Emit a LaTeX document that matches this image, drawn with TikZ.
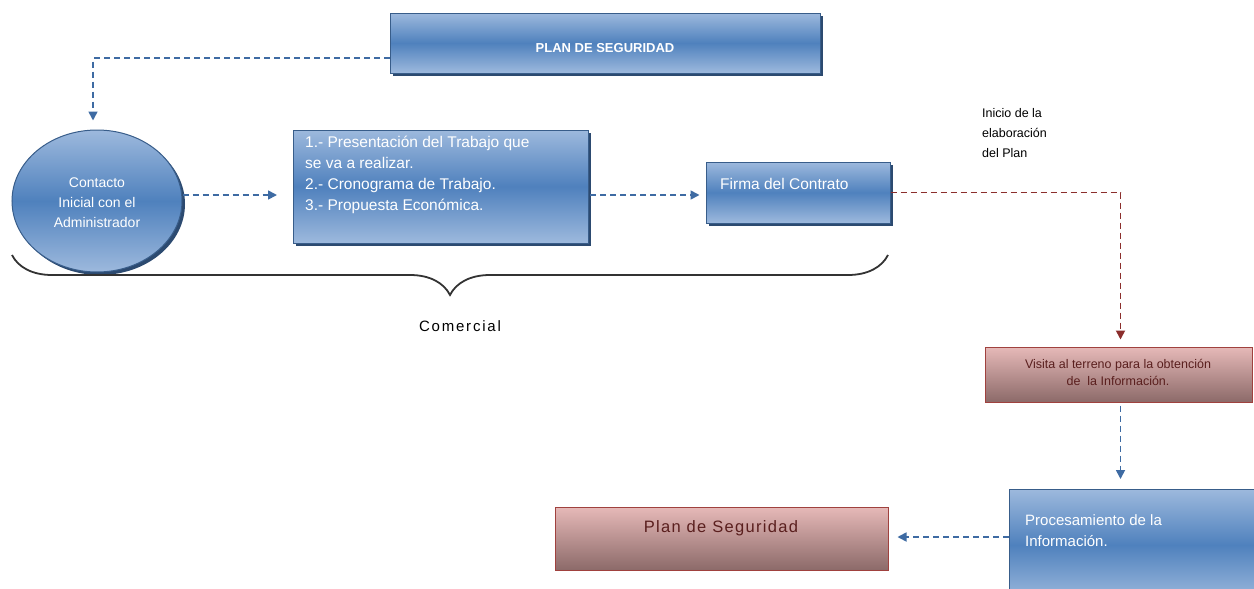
\documentclass[tikz,border=0pt]{standalone}
\usepackage{fontspec}
\setmainfont{Liberation Sans}
\usetikzlibrary{shapes.geometric,shadows,arrows.meta,decorations.pathreplacing}
\definecolor{bLight}{HTML}{9DB9DD}
\definecolor{bMid}{HTML}{4F81BD}
\definecolor{bBorder}{HTML}{385D8A}
\definecolor{bShadow}{HTML}{2C4A70}
\definecolor{rLight}{HTML}{E6B9B8}
\definecolor{rDark}{HTML}{8C6A69}
\definecolor{rBorder}{HTML}{A0413E}
\definecolor{rText}{HTML}{5A1F1E}
\definecolor{rArrow}{HTML}{8B2E2C}
\definecolor{bArrow}{HTML}{3E6BA3}
\tikzset{
  bluebox/.style={draw=bBorder, line width=1pt, top color=bLight, bottom color=bLight, middle color=bMid,
    general shadow={fill=bShadow, shadow xshift=3pt, shadow yshift=-3pt}, inner sep=0pt},
  redbox/.style={draw=rBorder, line width=1pt, top color=rLight, bottom color=rDark,
    inner sep=0pt},
  wtext/.style={text=white, font=\fontsize{15}{20}\selectfont, inner sep=0pt},
  bdash/.style={draw=bArrow, line width=1.7pt, dash pattern=on 6pt off 4pt, -{Triangle[length=9pt,width=9pt]}},
  rdash/.style={draw=rArrow, line width=1.8pt, dash pattern=on 6pt off 4pt, -{Triangle[length=9pt,width=9pt]}},
}
\begin{document}
\begin{tikzpicture}[x=1pt,y=-1pt]
\useasboundingbox (0,0) rectangle (1254,589);
% nodes
\node[bluebox, minimum width=430pt, minimum height=60pt] (plan) at (605,43) {};
\node[text=white, font=\fontsize{13}{15}\selectfont\bfseries, inner sep=0pt] (plant) at (605,48) {PLAN DE SEGURIDAD};
\node[bluebox, ellipse, minimum width=170pt, minimum height=142pt] (ell) at (97,201) {};
\node[text=white, font=\fontsize{14}{20}\selectfont, align=center, inner sep=0pt] (ellt) at (97,203) {Contacto\\Inicial con el\\Administrador};
\node[bluebox, minimum width=295pt, minimum height=113pt] (list) at (440.5,186.5) {};
\node[wtext, anchor=north west, align=left, font=\fontsize{15.5}{21}\selectfont] (listt) at (305,136) {1.- Presentación del Trabajo que\\se va a realizar.\\2.- Cronograma de Trabajo.\\3.- Propuesta Económica.};
\node[bluebox, minimum width=184pt, minimum height=61pt] (firma) at (798,192.5) {};
\node[wtext, anchor=west, font=\fontsize{15.5}{20}\selectfont] (firmat) at (720,184) {Firma del Contrato};
\node[anchor=north west, align=left, font=\fontsize{12.5}{20}\selectfont, inner sep=0pt] (inicio) at (982,108) {Inicio de la\\elaboración\\del Plan};
\node[redbox, minimum width=267pt, minimum height=55pt] (visita) at (1118.5,374.5) {};
\node[text=rText, align=center, font=\fontsize{12.5}{17}\selectfont, inner sep=0pt] (visitat) at (1118,372) {Visita al terreno para la obtención\\de\ \ la Información.};
\node[bluebox, minimum width=252pt, minimum height=112pt] (proc) at (1135,545) {};
\node[wtext, anchor=north west, align=left, font=\fontsize{15}{21}\selectfont] (proct) at (1025,514) {Procesamiento de la\\Información.};
\node[redbox, minimum width=333pt, minimum height=63pt] (pseg) at (721.5,538.5) {};
\node[text=rText, font=\fontsize{16.5}{20}\selectfont\addfontfeature{LetterSpace=8}, inner sep=0pt] (psegt) at (721,528) {Plan de Seguridad};
\node[font=\fontsize{15}{20}\selectfont\addfontfeature{LetterSpace=12}, inner sep=0pt] (com) at (460,326) {Comercial};
% brace
\coordinate (bl) at (12,255);
\coordinate (br) at (888,255);
\draw[line width=1.8pt, draw=black!80, decorate, decoration={brace, mirror, amplitude=40pt, aspect=0.5}] (bl) -- (br);
% connectors
\coordinate (c1) at ([yshift=-15pt]plan.west);
\coordinate (c1e) at ([xshift=-4pt,yshift=9pt]ell.north);
\draw[bdash] (c1) -| (c1e);
\coordinate (c2) at ([yshift=6pt]ell.east);
\coordinate (c2e) at (277,195);
\draw[bdash] (c2) -- (c2e);
\coordinate (c3) at (590,195);
\coordinate (c3e) at ([xshift=-6pt]firma.west |- c3);
\draw[bdash] (c3) -- (c3e);
\coordinate (c4e) at ([xshift=2pt,yshift=7pt]visita.north);
\draw[rdash] (firma.east) -| (c4e);
\coordinate (c5) at ([xshift=2pt,yshift=-3pt]visita.south);
\coordinate (c5e) at (1120.5,479);
\draw[bdash] (c5) -- (c5e);
\coordinate (c6) at (proc.west |- 0,537);
\coordinate (c6e) at ([xshift=9pt]pseg.east |- c6);
\draw[bdash] (c6) -- (c6e);
\end{tikzpicture}
\end{document}
